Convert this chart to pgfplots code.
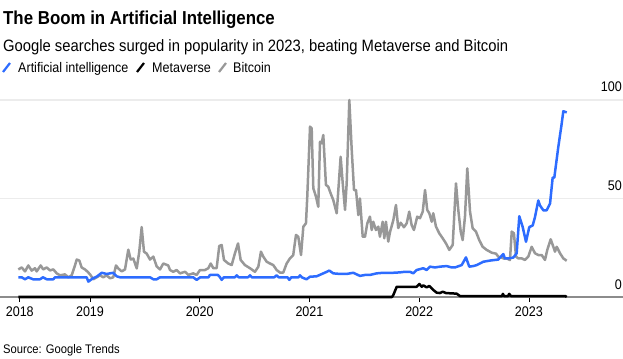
\documentclass[border=0pt]{standalone}
\usepackage{pgfplots}
\pgfplotsset{compat=1.18}
\usepackage{fontspec}
\setmainfont{Liberation Sans}[FakeStretch=0.90]
\definecolor{aiblue}{RGB}{45,108,255}
\definecolor{btcgray}{RGB}{152,152,152}
\definecolor{gridgray}{RGB}{236,236,236}
\definecolor{basegray}{RGB}{140,140,140}
\begin{document}
\begin{tikzpicture}
\useasboundingbox (0bp,-62bp) rectangle (623bp,297bp);
\node[anchor=base west, inner sep=0pt] at (3bp,272bp) {\fontsize{18.8}{20}\selectfont\bfseries The Boom in Artificial Intelligence};
\node[anchor=base west, inner sep=0pt] at (3bp,245bp) {\fontsize{16.5}{18}\selectfont Google searches surged in popularity in 2023, beating Metaverse and Bitcoin};
\draw[aiblue, line width=2.2bp] (3bp,225bp) -- (10bp,234bp);
\node[anchor=base west, inner sep=0pt] at (18bp,224bp) {\fontsize{14}{16}\selectfont Artificial intelligence};
\draw[black, line width=2.2bp] (137bp,225bp) -- (144bp,234bp);
\node[anchor=base west, inner sep=0pt] at (152bp,224bp) {\fontsize{14}{16}\selectfont Metaverse};
\draw[btcgray, line width=2.2bp] (219bp,225bp) -- (226bp,234bp);
\node[anchor=base west, inner sep=0pt] at (233bp,224bp) {\fontsize{14}{16}\selectfont Bitcoin};
\node[anchor=base west, inner sep=0pt] at (3bp,-56bp) {\fontsize{12.5}{15}\selectfont Source: Google Trends};
\begin{axis}[
  anchor=south west,
  width=623bp, height=197bp, scale only axis,
  xmin=2018.18, xmax=2023.857, ymin=0, ymax=100,
  clip=false,
  axis x line*=bottom, axis y line*=right,
  axis line style={-},
  y axis line style={draw=none},
  x axis line style={draw=basegray, line width=1.6bp},
  xtick={2018.36,2019,2020,2021,2022,2023},
  xticklabels={2018,2019,2020,2021,2022,2023},
  ytick={0,50,100},
  yticklabels={0,50,100},
  ymajorgrids, grid style={gridgray, line width=1.2bp},
  tick align=outside, major tick length=5bp,
  xtick style={black, line width=0.8bp},
  ytick style={draw=none},
  ticklabel style={font=\fontsize{14}{16}\selectfont, inner sep=0pt},
  yticklabel pos=right,
  yticklabel style={anchor=base east, xshift=-6bp, yshift=8bp},
  xticklabel style={anchor=base, yshift=-14bp},
]
\addplot[btcgray, line width=2.5bp, line join=round] table {
2018.347 14
2018.378 15
2018.408 13
2018.438 16
2018.469 13.4
2018.499 14.6
2018.514 13
2018.551 16
2018.574 14
2018.605 15
2018.636 13.5
2018.666 14
2018.697 12
2018.727 11
2018.772 11.5
2018.802 10
2018.833 11
2018.863 16
2018.879 19
2018.903 18.5
2018.924 15
2018.954 14
2018.975 13
2019.000 11.5
2019.030 9
2019.061 10
2019.091 11
2019.121 10
2019.152 11
2019.182 9.5
2019.212 10
2019.237 16
2019.258 14.5
2019.289 13
2019.319 14
2019.349 24
2019.371 19
2019.395 19.5
2019.426 14.5
2019.449 23
2019.471 35.5
2019.492 23
2019.517 22
2019.547 19
2019.577 20.5
2019.608 15.5
2019.638 14
2019.668 17
2019.713 16
2019.729 13.7
2019.759 12.8
2019.790 13.7
2019.820 12
2019.866 12.8
2019.896 11.2
2019.941 12
2019.972 11.2
2020.002 13.7
2020.048 13.7
2020.078 14.6
2020.100 17
2020.124 14.6
2020.154 14.6
2020.178 25.9
2020.200 26.4
2020.221 18.8
2020.260 17
2020.291 16.2
2020.321 22.2
2020.349 27.2
2020.373 18.8
2020.412 16.2
2020.458 14.6
2020.503 12.8
2020.534 15.4
2020.558 23
2020.579 20.5
2020.610 17.9
2020.640 17
2020.670 16.2
2020.701 13.7
2020.731 12.4
2020.761 12.4
2020.792 17
2020.822 19.6
2020.852 21.3
2020.877 31.5
2020.898 30.6
2020.923 21.3
2020.944 35.7
2020.968 37.4
2020.980 51
2021.005 86.5
2021.020 85.6
2021.035 55.2
2021.059 51
2021.080 45.8
2021.096 78.8
2021.111 78
2021.126 82.2
2021.150 56.9
2021.171 56
2021.193 52.6
2021.217 49.2
2021.248 42.5
2021.263 54.3
2021.284 71.2
2021.303 57.7
2021.324 44.2
2021.339 57.7
2021.363 100
2021.385 74.6
2021.406 54.3
2021.424 54.3
2021.445 41.6
2021.460 50
2021.485 30.6
2021.506 30.6
2021.527 37.4
2021.551 40.8
2021.567 34
2021.581 38.2
2021.606 34
2021.627 35.7
2021.642 30.6
2021.667 38.2
2021.682 29.8
2021.697 38.2
2021.718 28.1
2021.734 33
2021.764 39
2021.788 46.7
2021.809 35
2021.831 37.7
2021.861 35.4
2021.886 37.4
2021.909 43.3
2021.931 36.5
2021.952 34
2021.982 40.8
2022.007 40
2022.032 43.3
2022.053 54.3
2022.073 44.2
2022.092 42.5
2022.114 38.2
2022.128 42.5
2022.153 35.7
2022.183 32.3
2022.214 29.8
2022.244 27.2
2022.274 23.9
2022.305 26.4
2022.335 57.7
2022.356 44.2
2022.378 33.2
2022.396 28.9
2022.417 40.8
2022.438 65.3
2022.463 43.3
2022.487 34.9
2022.517 33.2
2022.547 28.9
2022.578 25.5
2022.615 23.9
2022.660 22.5
2022.700 22
2022.720 20.5
2022.751 20
2022.772 19.5
2022.797 19.6
2022.827 18.8
2022.843 33.2
2022.863 32.3
2022.882 20.5
2022.903 19.6
2022.934 19.6
2022.964 18.8
2022.994 20.5
2023.025 25.5
2023.055 22.2
2023.085 21.3
2023.116 21.3
2023.146 18.8
2023.167 23.9
2023.198 29.3
2023.222 25.5
2023.237 23
2023.253 25.5
2023.283 22.2
2023.313 19.6
2023.344 18.4
};
\addplot[aiblue, line width=2.5bp, line join=round] table {
2018.347 10
2018.378 10
2018.408 9
2018.438 10
2018.481 9
2018.544 9
2018.572 10
2018.605 9
2018.666 9
2018.681 10
2018.818 10
2018.970 10
2018.985 7.8
2019.027 9.5
2019.061 10.3
2019.107 12.3
2019.152 11.7
2019.182 12
2019.212 12.3
2019.243 10.5
2019.273 10
2019.547 10
2019.577 9
2019.608 9
2019.638 10
2019.700 10
2019.940 10
2019.972 8.7
2020.005 10
2020.080 10
2020.093 11.2
2020.166 11.2
2020.185 10
2020.200 8.7
2020.220 10
2020.320 10
2020.337 11
2020.355 10
2020.440 10
2020.458 11
2020.475 10
2020.600 10
2020.680 10
2020.700 11
2020.720 10
2020.800 10
2020.816 8.7
2020.835 10
2020.900 10
2020.914 11
2020.930 10
2020.950 9.5
2020.973 9
2021.005 10.3
2021.065 10.5
2021.126 12
2021.181 13.4
2021.217 12
2021.278 11.7
2021.339 11.7
2021.399 12.3
2021.460 10.7
2021.506 11.2
2021.551 11.2
2021.612 12
2021.673 12.3
2021.764 12.3
2021.825 12.5
2021.870 12.8
2021.916 12.8
2021.946 12
2021.977 13.7
2022.037 14.6
2022.068 13.7
2022.098 15.4
2022.144 15
2022.189 15.4
2022.250 15.7
2022.296 15
2022.326 15
2022.387 16.2
2022.426 20.1
2022.456 15.4
2022.493 15.7
2022.524 16.2
2022.584 17.9
2022.645 18.5
2022.720 19
2022.766 21.8
2022.781 19.6
2022.811 19.6
2022.857 20
2022.888 22.2
2022.912 41
2022.943 35.5
2022.973 28
2023.003 35.5
2023.034 36.3
2023.055 40.6
2023.085 49
2023.100 46.5
2023.131 44
2023.161 44
2023.192 47.4
2023.216 60.6
2023.231 60.6
2023.267 76
2023.298 87.9
2023.313 94.3
2023.344 93.7
};
\addplot[black, line width=2.5bp, line join=round] table {
2018.347 0
2021.752 0
2021.764 1
2021.795 5.2
2021.977 5.2
2022.001 6.6
2022.023 5.2
2022.037 5.9
2022.068 4.9
2022.092 5.6
2022.128 3.6
2022.159 2.2
2022.189 2
2022.214 2.7
2022.244 2
2022.341 1.7
2022.371 0.5
2022.755 0.5
2022.763 1.6
2022.772 0.5
2022.810 0.5
2022.820 1.6
2022.835 0.5
2023.330 0.5
2023.344 0
};
\end{axis}
\end{tikzpicture}
\end{document}
